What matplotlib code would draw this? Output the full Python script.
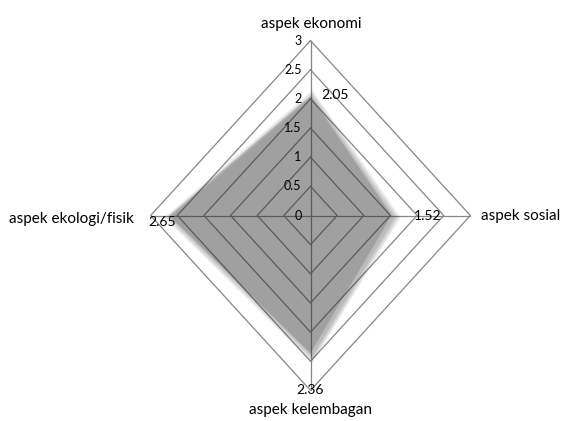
import numpy as np
import matplotlib.pyplot as plt
from matplotlib import transforms

# data
categories = ['aspek ekonomi', 'aspek sosial', 'aspek kelembagan', 'aspek ekologi/fisik']
values = [2.05, 1.52, 2.36, 2.65]
ticks = [0, 0.5, 1, 1.5, 2, 2.5, 3]
tick_labels = ['0', '0.5', '1', '1.5', '2', '2.5', '3']
value_labels = ['2.05', '1.52', '2.36', '2.65']

plt.rcParams['font.family'] = ['Lato', 'DejaVu Sans']

# axes clockwise from the top
angles = np.pi / 2 - np.arange(len(categories)) * 2 * np.pi / len(categories)
ux, uy = np.cos(angles), np.sin(angles)

fig = plt.figure(figsize=(5.72, 4.21), dpi=100)
ax = fig.add_axes([0, 0, 1, 1])
ax.axis('off')
# px per unit: 53.3 horizontal, 58.3 vertical, centre at (310.5, 215.5)
ax.set_xlim(-310.5 / 53.3, (572 - 310.5) / 53.3)
ax.set_ylim(-(421 - 215.5) / 58.3, 215.5 / 58.3)

grid_col = '#868686'
rmax = ticks[-1]

# rings
for t in ticks[1:]:
    xs = np.append(ux * t, ux[0] * t)
    ys = np.append(uy * t, uy[0] * t)
    ax.plot(xs, ys, color=grid_col, lw=0.9, zorder=1)
# spokes
for i in range(len(categories)):
    ax.plot([0, ux[i] * rmax], [0, uy[i] * rmax], color=grid_col, lw=0.9, zorder=1)

# soft shadow (stacked, slightly expanded copies)
shift = transforms.offset_copy(ax.transData, fig=fig, x=2, y=-2, units='dots')
vals = np.array(values)
n_layers = 16
for k in range(1, n_layers + 1):
    ex = vals + k * 0.5 / 55.0
    xs = np.append(ux * ex, ux[0] * ex[0])
    ys = np.append(uy * ex, uy[0] * ex[0])
    ax.fill(xs, ys, color='#202020', alpha=0.018, lw=0, zorder=2, transform=shift)

xs = np.append(ux * vals, ux[0] * vals[0])
ys = np.append(uy * vals, uy[0] * vals[0])
ax.fill(xs, ys, color='#202020', alpha=0.17, lw=0, zorder=3)

# tick labels along the top axis
for t, lab in zip(ticks, tick_labels):
    ax.annotate(lab, (0, t), xytext=(-9, 0), textcoords='offset pixels',
                ha='right', va='center', fontsize=9, zorder=5)

# value labels
offsets = [(11, 1), (22, 0), (0, -37), (-7, -6)]
aligns = ['left', 'left', 'center', 'center']
for i, (v, lab) in enumerate(zip(values, value_labels)):
    ax.annotate(lab, (ux[i] * v, uy[i] * v), xytext=offsets[i], textcoords='offset pixels',
                ha=aligns[i], va='center', fontsize=10, zorder=5)

# category labels
cat_off = [(1, 17), (11, 0), (0, -20), (-142, -3)]
cat_ha = ['center', 'left', 'center', 'left']
for i, lab in enumerate(categories):
    ax.annotate(lab, (ux[i] * rmax, uy[i] * rmax), xytext=cat_off[i],
                textcoords='offset pixels', ha=cat_ha[i], va='center', fontsize=11, zorder=5)

fig.savefig('out.png', dpi=100, facecolor='white')
